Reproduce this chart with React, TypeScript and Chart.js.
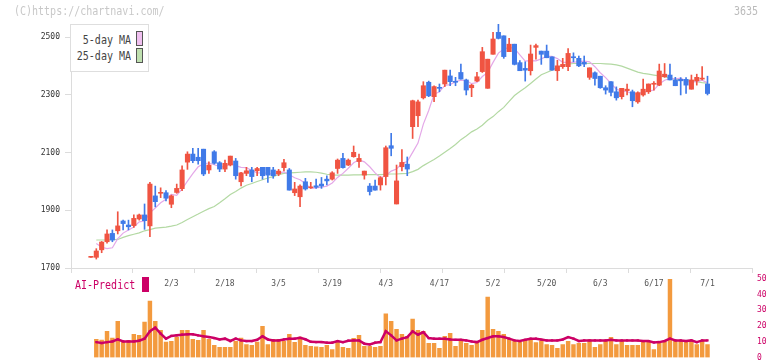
import React, { useEffect, useRef } from "react";
import { Chart, registerables } from "chart.js";
Chart.register(...registerables);

// ---- data (index 0 = first drawn candle) ----
const dateLabels = ["2/3", "2/18", "3/5", "3/19", "4/3", "4/17", "5/2", "5/20", "6/3", "6/17", "7/1"];
const dateIdx = [15, 25, 35, 45, 55, 65, 75, 85, 95, 105, 115];
const priceTicks = [1700, 1900, 2100, 2300, 2500];
const volTicks = [0, 10, 20, 30, 40, 50];

const openP = [1737, 1737, 1763, 1791, 1820, 1829, 1863, 1849, 1847, 1870, 1884, 1846, 1950, 1959, 1961, 1921, 1962, 1975, 2067, 2095, 2084, 2112, 2040, 2103, 2065, 2043, 2057, 2071, 1999, 2028, 2040, 2037, 2049, 2049, 2040, 2026, 2048, 2040, 1961, 1947, 1999, 1978, 1985, 1991, 2008, 2008, 2045, 2080, 2057, 2086, 2069, 2022, 1984, 1984, 1988, 2017, 2124, 1922, 2051, 2060, 2190, 2228, 2290, 2344, 2294, 2326, 2338, 2366, 2346, 2378, 2352, 2325, 2348, 2381, 2323, 2441, 2517, 2505, 2450, 2476, 2412, 2392, 2384, 2465, 2452, 2452, 2432, 2384, 2398, 2398, 2432, 2427, 2413, 2361, 2377, 2365, 2325, 2346, 2311, 2294, 2315, 2311, 2276, 2300, 2311, 2337, 2334, 2363, 2369, 2352, 2354, 2354, 2320, 2349, 2355, 2338];
const highP = [1737, 1767, 1792, 1832, 1832, 1895, 1866, 1866, 1884, 1887, 1922, 1997, 1984, 1978, 1968, 1953, 1991, 2054, 2103, 2115, 2115, 2112, 2068, 2107, 2069, 2074, 2088, 2080, 2032, 2049, 2049, 2049, 2049, 2049, 2049, 2042, 2077, 2045, 1997, 1988, 2011, 1997, 2008, 2014, 2020, 2034, 2078, 2098, 2078, 2123, 2095, 2036, 1993, 2005, 2017, 2123, 2167, 2057, 2111, 2085, 2282, 2282, 2346, 2348, 2332, 2338, 2386, 2386, 2361, 2407, 2355, 2337, 2378, 2465, 2424, 2517, 2546, 2505, 2496, 2476, 2419, 2415, 2473, 2476, 2452, 2473, 2432, 2420, 2427, 2461, 2446, 2435, 2435, 2394, 2380, 2365, 2332, 2346, 2328, 2323, 2338, 2317, 2311, 2355, 2338, 2346, 2407, 2409, 2407, 2361, 2360, 2360, 2369, 2372, 2398, 2365];
const lowP = [1737, 1731, 1753, 1786, 1791, 1818, 1832, 1832, 1841, 1866, 1834, 1809, 1912, 1944, 1933, 1909, 1959, 1968, 2042, 2065, 2060, 2020, 2028, 2060, 2034, 2034, 2054, 2008, 1985, 2020, 1999, 2020, 2008, 1997, 2011, 2020, 2037, 1970, 1951, 1913, 1970, 1976, 1976, 1976, 1988, 2005, 2028, 2046, 2055, 2084, 2049, 2008, 1953, 1970, 1970, 1988, 2089, 1922, 2037, 2020, 2149, 2190, 2286, 2294, 2277, 2311, 2329, 2332, 2332, 2355, 2300, 2294, 2346, 2378, 2323, 2441, 2494, 2427, 2450, 2404, 2384, 2348, 2369, 2424, 2406, 2429, 2386, 2350, 2392, 2384, 2415, 2398, 2398, 2354, 2334, 2323, 2303, 2297, 2282, 2286, 2300, 2259, 2271, 2296, 2305, 2317, 2332, 2361, 2352, 2332, 2300, 2305, 2320, 2334, 2352, 2300];
const closeP = [1737, 1759, 1790, 1818, 1797, 1846, 1854, 1843, 1872, 1884, 1864, 1991, 1930, 1961, 1942, 1950, 1976, 2040, 2095, 2072, 2072, 2026, 2057, 2063, 2043, 2063, 2088, 2020, 2030, 2037, 2017, 2045, 2020, 2022, 2020, 2036, 2065, 1970, 1974, 1984, 1974, 1980, 1980, 1984, 2002, 2030, 2074, 2048, 2074, 2101, 2080, 2036, 1965, 1970, 2013, 2117, 2115, 2002, 2066, 2043, 2280, 2276, 2332, 2297, 2329, 2323, 2386, 2346, 2344, 2355, 2317, 2334, 2363, 2450, 2424, 2494, 2496, 2433, 2476, 2406, 2384, 2386, 2442, 2471, 2441, 2429, 2386, 2401, 2406, 2444, 2429, 2401, 2407, 2394, 2357, 2325, 2317, 2309, 2290, 2323, 2320, 2280, 2308, 2320, 2338, 2340, 2383, 2372, 2352, 2332, 2349, 2334, 2352, 2361, 2357, 2305];

const ma5 = [null, 1785, 1772, 1767, 1770, 1802, 1821, 1832, 1842, 1860, 1863, 1891, 1908, 1926, 1938, 1955, 1952, 1974, 2001, 2027, 2051, 2061, 2064, 2058, 2052, 2050, 2063, 2055, 2049, 2048, 2038, 2030, 2030, 2028, 2025, 2029, 2033, 2023, 2013, 2006, 1993, 1976, 1978, 1980, 1984, 1995, 2014, 2028, 2046, 2065, 2075, 2068, 2051, 2030, 2013, 2020, 2036, 2043, 2063, 2069, 2101, 2133, 2199, 2246, 2303, 2311, 2333, 2336, 2346, 2351, 2350, 2339, 2343, 2364, 2378, 2413, 2445, 2459, 2465, 2461, 2439, 2417, 2419, 2418, 2425, 2434, 2434, 2426, 2413, 2413, 2413, 2416, 2417, 2415, 2398, 2377, 2360, 2340, 2320, 2313, 2312, 2304, 2304, 2310, 2313, 2317, 2338, 2351, 2357, 2356, 2358, 2348, 2344, 2346, 2351, 2342];
const ma25 = [null, 1797, 1797, 1797, 1798, 1799, 1806, 1812, 1817, 1822, 1829, 1833, 1838, 1840, 1842, 1845, 1849, 1858, 1868, 1878, 1887, 1897, 1906, 1913, 1926, 1940, 1955, 1965, 1977, 1987, 1993, 2000, 2006, 2012, 2017, 2024, 2028, 2030, 2031, 2032, 2033, 2033, 2032, 2029, 2025, 2023, 2022, 2022, 2022, 2023, 2023, 2024, 2024, 2024, 2024, 2025, 2026, 2026, 2027, 2028, 2034, 2042, 2055, 2066, 2076, 2088, 2101, 2114, 2128, 2145, 2158, 2172, 2182, 2195, 2212, 2225, 2242, 2257, 2278, 2298, 2312, 2325, 2340, 2355, 2370, 2378, 2386, 2396, 2402, 2407, 2409, 2409, 2409, 2409, 2409, 2409, 2408, 2407, 2404, 2400, 2393, 2386, 2379, 2375, 2372, 2369, 2366, 2363, 2359, 2355, 2353, 2352, 2349, 2346, 2343, 2341];

const volume = [null, 11.5, 11.1, 16.7, 12.4, 23.1, 10.3, 10.9, 14.7, 14.1, 22.6, 35.9, 23.1, 17.3, 9.8, 10.3, 13.0, 17.3, 17.3, 11.5, 10.9, 17.3, 11.5, 7.7, 6.4, 6.4, 6.4, 10.3, 12.4, 8.3, 7.7, 9.8, 19.9, 8.3, 11.5, 11.5, 10.3, 14.7, 9.6, 13.0, 7.7, 7.1, 6.8, 6.4, 7.7, 5.1, 9.6, 6.4, 5.8, 12.2, 14.1, 7.1, 7.1, 6.4, 7.1, 27.8, 23.1, 17.9, 14.7, 13.5, 24.4, 17.3, 16.7, 9.0, 9.0, 5.8, 13.5, 15.4, 7.1, 10.3, 9.0, 7.7, 9.6, 17.3, 38.5, 17.9, 16.7, 14.7, 11.5, 10.9, 9.6, 10.9, 11.5, 9.5, 10.6, 8.3, 7.7, 5.8, 8.3, 10.3, 8.3, 9.0, 9.0, 11.3, 6.4, 8.3, 10.3, 12.8, 8.3, 10.3, 7.7, 7.7, 7.7, 10.3, 10.3, 5.1, 9.6, 10.3, 50, 10.3, 10.3, 10.3, 10.3, 8.3, 10.3, 8.3];
const aiPredict = [null, 9.8, 9.2, 9.8, 10.2, 11.5, 10.2, 10.2, 10.2, 10.7, 12.0, 16.7, 19.0, 15.2, 12.0, 13.7, 14.1, 14.5, 14.8, 14.8, 14.1, 13.5, 13.0, 12.4, 11.5, 12.0, 10.5, 12.0, 10.9, 10.5, 10.5, 11.3, 13.5, 11.5, 10.9, 10.9, 11.5, 12.0, 12.0, 12.5, 11.6, 10.0, 9.8, 9.8, 9.4, 9.4, 10.5, 9.8, 10.7, 10.9, 10.9, 8.8, 8.3, 9.4, 9.8, 16.7, 14.1, 10.9, 12.0, 13.0, 16.7, 14.5, 16.2, 12.4, 12.0, 12.0, 12.0, 11.5, 11.3, 11.3, 10.9, 10.2, 9.8, 11.3, 12.4, 13.5, 13.5, 13.0, 12.0, 10.9, 10.5, 11.3, 12.0, 12.0, 11.4, 10.9, 10.9, 10.9, 11.5, 13.0, 12.0, 10.5, 10.9, 10.9, 10.9, 10.9, 10.9, 11.3, 10.9, 10.9, 10.9, 10.9, 10.9, 10.5, 10.5, 9.6, 9.8, 10.5, 12.0, 10.9, 10.9, 10.5, 10.9, 9.8, 10.9, 10.9];

const X_MIN = -3.72;
const X_MAX = 123.3;
const UP = "#f05442";
const DOWN = "#407ae8";
const MAGENTA = "#cc0066";
const MONO = "'DejaVu Sans Mono', monospace";

export default function App() {
  const mainRef = useRef<HTMLCanvasElement>(null);
  const volRef = useRef<HTMLCanvasElement>(null);

  useEffect(() => {
    Chart.defaults.font.family = MONO;
    const idx = openP.map((_, i) => i);
    const up = idx.map((i) => closeP[i] >= openP[i]);

    const main = new Chart(mainRef.current!, {
      type: "bar",
      data: {
        datasets: [
          {
            type: "bar",
            data: idx.map((i) => ({ x: i, y: [openP[i], closeP[i]] })) as any,
            backgroundColor: idx.map((i) => (up[i] ? UP : DOWN)),
            barThickness: 4.4,
            minBarLength: 1,
            grouped: false,
            order: 0,
          } as any,
          {
            type: "bar",
            data: idx.map((i) => ({ x: i, y: [lowP[i], highP[i]] })) as any,
            backgroundColor: idx.map((i) => (up[i] ? UP : DOWN)),
            barThickness: 1,
            grouped: false,
            order: 1,
          } as any,
          {
            type: "line",
            data: idx.map((i) => ({ x: i, y: ma5[i] })) as any,
            borderColor: "#e4a8e8",
            borderWidth: 1.2,
            pointRadius: 0,
            order: 2,
          } as any,
          {
            type: "line",
            data: idx.map((i) => ({ x: i, y: ma25[i] })) as any,
            borderColor: "#b3d9a3",
            borderWidth: 1.2,
            pointRadius: 0,
            order: 3,
          } as any,
        ],
      },
      options: {
        responsive: false,
        animation: false,
        events: [],
        layout: { padding: { left: 0, right: 20, top: 24, bottom: 68 } },
        plugins: { legend: { display: false }, tooltip: { enabled: false } },
        scales: {
          x: {
            type: "linear",
            min: X_MIN,
            max: X_MAX,
            offset: false,
            afterBuildTicks: (s: any) => {
              const step = (X_MAX - X_MIN) / 11;
              s.ticks = Array.from({ length: 12 }, (_, k) => ({ value: X_MIN + k * step }));
            },
            afterFit: (s: any) => {
              s.height = 5;
            },
            ticks: { display: false },
            grid: { offset: false, drawOnChartArea: false, drawTicks: true, tickLength: 5, color: "#dcdcdc" },
            border: { color: "#dcdcdc" },
          },
          x2: {
            type: "linear",
            position: "bottom",
            min: X_MIN,
            max: X_MAX,
            offset: false,
            afterBuildTicks: (s: any) => {
              s.ticks = dateIdx.map((v) => ({ value: v }));
            },
            afterFit: (s: any) => {
              s.height = 20;
            },
            ticks: {
              autoSkip: false,
              maxRotation: 0,
              color: "#555",
              font: { size: 8 },
              padding: 6,
              callback: (v: any) => {
                const k = dateIdx.indexOf(v);
                return k >= 0 ? dateLabels[k] : "";
              },
            },
            grid: { display: false, drawTicks: false },
            border: { display: false },
          },
          y: {
            type: "linear",
            position: "left",
            min: 1700,
            max: 2546,
            beginAtZero: false,
            afterBuildTicks: (s: any) => {
              s.ticks = priceTicks.map((v) => ({ value: v }));
            },
            afterFit: (s: any) => {
              s.width = 71;
            },
            ticks: { color: "#333", font: { size: 8 }, padding: 5, callback: (v: any) => String(v) },
            grid: { drawOnChartArea: false, drawTicks: true, tickLength: 6, color: "#dcdcdc" },
            border: { color: "#dcdcdc" },
          },
        },
      } as any,
    });

    const vidx = volume.map((_, i) => i);
    const vol = new Chart(volRef.current!, {
      type: "bar",
      data: {
        datasets: [
          {
            type: "line",
            data: vidx.map((i) => ({ x: i, y: aiPredict[i] })) as any,
            borderColor: MAGENTA,
            backgroundColor: MAGENTA,
            borderWidth: 2.5,
            pointStyle: "rect",
            pointRadius: 1.6,
            pointBorderWidth: 0,
            order: 0,
          } as any,
          {
            type: "bar",
            data: vidx.map((i) => ({ x: i, y: volume[i] })) as any,
            backgroundColor: "#f39a3e",
            barThickness: 3.8,
            grouped: false,
            order: 1,
          } as any,
        ],
      },
      options: {
        responsive: false,
        animation: false,
        events: [],
        layout: { padding: { left: 71, right: 0, top: 279, bottom: 22.5 } },
        plugins: { legend: { display: false }, tooltip: { enabled: false } },
        scales: {
          x: {
            type: "linear",
            min: X_MIN,
            max: X_MAX,
            offset: false,
            display: false,
            grid: { offset: false },
          },
          y: {
            type: "linear",
            position: "right",
            min: 0,
            max: 50,
            afterBuildTicks: (s: any) => {
              s.ticks = volTicks.map((v) => ({ value: v }));
            },
            afterFit: (s: any) => {
              s.width = 20;
            },
            ticks: { color: MAGENTA, font: { size: 8 }, padding: 5 },
            grid: { display: false, drawTicks: false },
            border: { display: false },
          },
        },
      } as any,
    });

    return () => {
      main.destroy();
      vol.destroy();
    };
  }, []);

  const abs: React.CSSProperties = { position: "absolute" };
  const tall: React.CSSProperties = { transform: "scaleY(1.25)", transformOrigin: "50% 50%" };
  return (
    <div style={{ position: "absolute", left: 0, top: 0, width: 772, height: 361, background: "#fff", overflow: "hidden", fontFamily: MONO }}>
      <canvas ref={volRef} width={772} height={380} style={{ ...abs, left: 0, top: 0, width: 772, height: 380 }} />
      <canvas ref={mainRef} width={772} height={361} style={{ ...abs, left: 0, top: 0, width: 772, height: 361 }} />
      <div style={{ ...abs, left: 14, top: 5, fontSize: 10, color: "#c8c8c8", whiteSpace: "nowrap", ...tall }}>(C)https://chartnavi.com/</div>
      <div style={{ ...abs, left: 734, top: 5, fontSize: 10, color: "#bbb", ...tall }}>3635</div>
      <div style={{ ...abs, left: 70, top: 24, width: 77, height: 46, border: "1px solid #dedede", background: "#fff" }}>
        <div style={{ ...abs, right: 17, top: 9, fontSize: 10, color: "#444", whiteSpace: "nowrap", ...tall }}>5-day MA</div>
        <div style={{ ...abs, left: 65, top: 6, width: 5, height: 13, border: "1.5px solid #555", background: "#f0c0f0" }} />
        <div style={{ ...abs, right: 17, top: 25, fontSize: 10, color: "#444", whiteSpace: "nowrap", ...tall }}>25-day MA</div>
        <div style={{ ...abs, left: 65, top: 23, width: 5, height: 13, border: "1.5px solid #555", background: "#bfe0b0" }} />
      </div>
      <div style={{ ...abs, left: 75, top: 279, fontSize: 10, color: MAGENTA, whiteSpace: "nowrap", ...tall }}>AI-Predict</div>
      <div style={{ ...abs, left: 142, top: 277, width: 7, height: 15, background: MAGENTA }} />
    </div>
  );
}
